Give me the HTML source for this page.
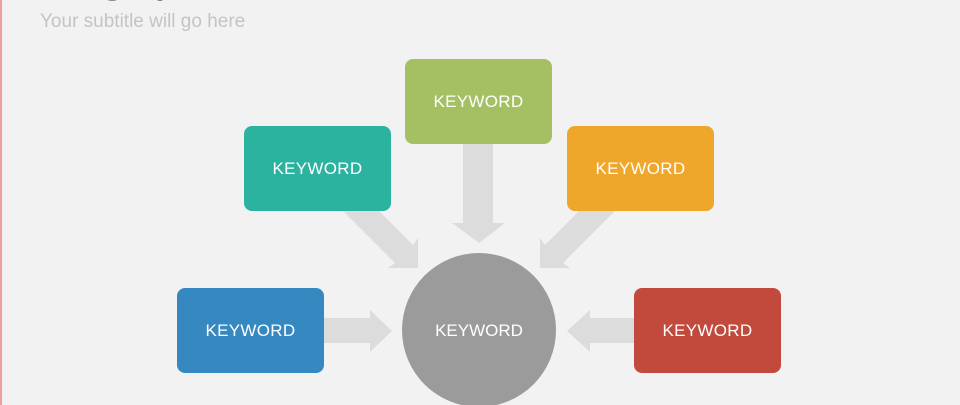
<!DOCTYPE html>
<html><head><style>
body{margin:0;width:960px;height:405px;overflow:hidden;background:#f2f2f2;font-family:"Liberation Sans",sans-serif;position:relative}
.b{position:absolute;width:147px;height:85px;border-radius:8px;color:#fff;font-size:17px;display:flex;align-items:center;justify-content:center;letter-spacing:0.3px}
</style></head><body>
<div style="position:absolute;left:0;top:0;width:2px;height:405px;background:#e8a0a0"></div>
<div style="position:absolute;left:40px;top:-36px;font-size:34px;color:#8a8a8a;font-weight:bold">Infographic Slide</div>
<div style="position:absolute;left:40px;top:11px;font-size:19px;color:#c4c4c4">Your subtitle will go here</div>
<svg width="960" height="405" style="position:absolute;left:0;top:0">
<g fill="#dcdcdc">
<polygon points="463,144 493,144 493,223 505,223 479,243 452,223 463,223"/>
<polygon points="324,318 370,318 370,310 392,331 370,352 370,343 324,343"/>
<polygon points="634,318 590,318 590,310 567,331 590,352 590,343 634,343"/>
<polygon points="343,211 379,211 413,245 418,238 418,268 388,268 395,263"/>
<polygon points="615,211 579,211 545,245 540,238 540,268 570,268 563,263"/>
</g>
<circle cx="479" cy="330" r="77" fill="#9b9b9b"/>
<text x="479" y="336" text-anchor="middle" font-family="Liberation Sans" font-size="17" fill="#fff">KEYWORD</text>
</svg>
<div class="b" style="left:405px;top:59px;background:#a5c063">KEYWORD</div>
<div class="b" style="left:244px;top:126px;background:#2bb3a0">KEYWORD</div>
<div class="b" style="left:567px;top:126px;background:#eea62b">KEYWORD</div>
<div class="b" style="left:177px;top:288px;background:#3589c0">KEYWORD</div>
<div class="b" style="left:634px;top:288px;background:#c14a3c">KEYWORD</div>
</body></html>
